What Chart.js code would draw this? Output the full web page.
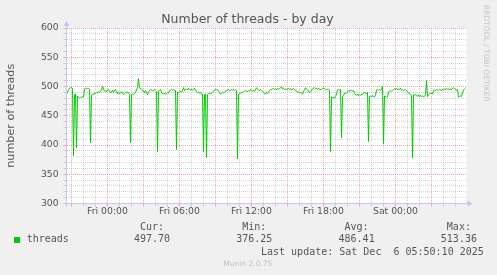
<!DOCTYPE html>
<html><head><meta charset="utf-8">
<script src="https://cdn.jsdelivr.net/npm/chart.js@4/dist/chart.umd.min.js"></script>
<style>
html,body{margin:0;padding:0;background:#f0f0f0;}
#wrap{position:relative;width:497px;height:275px;overflow:hidden;background:#f0f0f0;}
canvas{position:absolute;left:0;top:0;}
.t{position:absolute;white-space:pre;line-height:1;}
.sans{font-family:'DejaVu Sans',sans-serif;}
.mono{font-family:'DejaVu Sans Mono',monospace;font-size:10px;color:#555;}
</style></head><body>
<div id="wrap">
<canvas id="c" width="497" height="275"></canvas>
</div>
<script>
// ---- data (5-minute samples, Thu 20:35 .. Sat 05:50) ----
const threads = [
486,490,494,497,498,498,497,382,486,487,395,484,
482,481,482,481,483,482,496,497,497,496,497,495,
404,485,487,486,489,488,490,489,491,490,492,494,
500,495,492,493,491,494,495,492,489,491,494,490,
493,495,491,488,490,487,489,491,490,486,488,490,
489,491,488,487,404,486,487,486,488,490,494,498,
513.36,498,496,495,494,492,489,493,491,486,490,493,
495,494,492,494,495,493,491,388,492,494,495,490,
488,487,489,486,488,490,489,493,494,495,493,495,
494,493,392,490,489,491,492,490,493,498,493,495,
496,494,497,495,493,496,494,495,497,494,491,490,
490,489,490,487,487,388,486,487,379,486,488,489,
487,489,490,492,494,495,494,495,493,489,487,489,
490,489,490,492,494,493,495,494,493,495,494,495,
493,494,493,376.25,486,488,489,490,489,491,492,493,
492,491,493,492,495,493,492,493,492,494,498,496,
494,493,495,493,492,490,488,487,490,488,490,493,
495,494,496,497,495,496,494,497,495,496,498,500,
496,497,495,496,494,496,497,495,496,494,495,497,
495,494,492,490,491,489,490,488,487,492,494,498,
495,494,493,489,491,494,496,497,498,496,497,495,
497,496,494,495,496,498,496,495,494,496,495,494,
389,482,481,482,480,483,487,494,495,494,495,412,
483,484,489,488,489,490,493,492,493,494,492,493,
489,486,485,487,484,486,485,487,486,488,490,489,
488,490,406,483,484,482,485,483,482,485,494,495,
494,495,494,495,500,402,484,483,481,482,491,492,
493,492,493,494,496,495,497,494,496,495,497,494,
495,493,494,495,493,491,489,487,486,485,378,486,
485,486,485,483,486,482,485,483,484,482,483,486,
510,483,486,487,489,488,487,493,494,493,495,494,
493,495,494,493,495,494,496,495,497,495,496,494,
496,495,497,498,496,495,494,495,482,483,484,483,
489,494,496,497.7
];
const startHour = -41/12;      // first sample, hours relative to Fri 00:00
const stepHours = 1/12;        // 5 minutes
const xTickHours = [0, 6, 12, 18, 24];
const xTickLabels = ['Fri 00:00', 'Fri 06:00', 'Fri 12:00', 'Fri 18:00', 'Sat 00:00'];
const yTickLabels = [300, 350, 400, 450, 500, 550, 600];
const seriesName = 'threads';
const statNames = ['Cur:', 'Min:', 'Avg:', 'Max:'];
const statValues = ['497.70', '376.25', '486.41', '513.36'];
const chartTitle = 'Number of threads - by day';
const yTitle = 'number of threads';
const lastUpdate = 'Last update: Sat Dec  6 05:50:10 2025';
const version = 'Munin 2.0.75';
const sideText = 'RRDTOOL / TOBI OETIKER';

// ---- build ----
const xMin = startHour;
const xMax = startHour + threads.length * stepHours;
const points = threads.map((v, i) => ({x: startHour + i * stepHours, y: v}));

const MAJ = 'rgba(235,135,135,0.7)';
const MIN = 'rgba(165,165,165,0.45)';
const AX = '#c6c6f2';
const TXT = '#555555';

Chart.defaults.font.family = "'DejaVu Sans', sans-serif";

const frame = {
  id: 'frame',
  beforeDraw(chart) {
    const {ctx, chartArea: a} = chart;
    ctx.save();
    ctx.fillStyle = '#ffffff';
    ctx.fillRect(a.left, a.top, a.right - a.left, a.bottom - a.top);
    ctx.restore();
  },
  afterDraw(chart) {
    const {ctx, chartArea: a} = chart;
    const L = Math.round(a.left - 0.5) + 0.5, B = Math.round(a.bottom - 0.5) + 0.5;
    ctx.save();
    ctx.strokeStyle = AX; ctx.fillStyle = AX; ctx.lineWidth = 1;
    ctx.beginPath();
    ctx.moveTo(L, a.bottom + 3); ctx.lineTo(L, a.top - 3);
    ctx.moveTo(a.left - 3, B); ctx.lineTo(a.right + 2, B);
    ctx.stroke();
    ctx.beginPath();
    ctx.moveTo(L - 3, a.top - 2); ctx.lineTo(L + 3, a.top - 2); ctx.lineTo(L, a.top - 7); ctx.closePath(); ctx.fill();
    ctx.beginPath();
    ctx.moveTo(a.right + 1, B - 3); ctx.lineTo(a.right + 1, B + 3); ctx.lineTo(a.right + 6, B); ctx.closePath(); ctx.fill();
    ctx.restore();
  }
};

new Chart(document.getElementById('c'), {
  type: 'line',
  data: {datasets: [{label: seriesName, data: points, borderColor: '#00cc00', borderWidth: 1,
    pointRadius: 0, fill: false, tension: 0}]},
  options: {
    responsive: false, animation: false, devicePixelRatio: 1,
    layout: {padding: {left: 0, top: 28, right: 30.5, bottom: 0}},
    plugins: {legend: {display: false}, title: {display: false}, tooltip: {enabled: false}},
    scales: {
      x: {
        type: 'linear', min: xMin, max: xMax,
        afterFit(s) { s.height = 71.5; },
        afterBuildTicks(s) {
          const t = [];
          for (let h = Math.ceil(xMin); h <= Math.floor(xMax); h++) t.push({value: h});
          s.ticks = t;
        },
        ticks: {autoSkip: false, maxRotation: 0, minRotation: 0, padding: 0, color: TXT, font: {size: 9.3},
          callback(v) { const k = xTickHours.indexOf(v); return k < 0 ? '' : xTickLabels[k]; }},
        grid: {color: c => (c.tick && c.tick.value % 3 === 0) ? MAJ : MIN, lineWidth: 1, tickLength: 3},
        border: {display: true, color: AX, width: 1, dash: [1, 1]}
      },
      y: {
        min: 300, max: 600,
        afterFit(s) { s.width = 66.5; },
        afterBuildTicks(s) {
          const t = [];
          for (let v = 300; v <= 600; v += 10) t.push({value: v});
          s.ticks = t;
        },
        ticks: {autoSkip: false, padding: 5, color: TXT, font: {size: 9.2},
          callback(v) { return yTickLabels.includes(v) ? String(v) : ''; }},
        grid: {color: c => (c.tick && c.tick.value % 50 === 0) ? MAJ : MIN, lineWidth: 1, tickLength: 3},
        border: {display: true, color: AX, width: 1, dash: [1, 1]},
        title: {display: true, text: yTitle, color: TXT, font: {size: 11.2}, padding: {top: 4.5, bottom: 0}}
      }
    }
  },
  plugins: [frame]
});

// ---- text overlays ----
const wrap = document.getElementById('wrap');
function addText(text, cls, style) {
  const d = document.createElement('div');
  d.className = 't ' + cls;
  d.textContent = text;
  Object.assign(d.style, style);
  wrap.appendChild(d);
  return d;
}
addText(chartTitle, 'sans', {left: '-1px', width: '497px', textAlign: 'center', top: '13.4px', fontSize: '12.5px', color: TXT});
addText(sideText, 'sans', {left: '482.8px', top: '5px', fontSize: '7.5px', color: '#c4c4c4', writingMode: 'vertical-rl'});
const sw = document.createElement('div');
Object.assign(sw.style, {position: 'absolute', left: '14px', top: '237.3px', width: '6px', height: '6px', background: '#00cc00'});
wrap.appendChild(sw);
addText(seriesName, 'mono', {left: '26.7px', top: '234.2px'});
const colCenters = [152, 254.3, 356.6, 458.9];
statNames.forEach((n, i) => {
  addText(n, 'mono', {left: (colCenters[i] - 30) + 'px', width: '60px', textAlign: 'center', top: '222.2px'});
  addText(statValues[i], 'mono', {left: (colCenters[i] - 30) + 'px', width: '60px', textAlign: 'center', top: '234.2px'});
});
addText(lastUpdate, 'mono', {left: '261px', top: '246.6px'});
addText(version, 'sans', {left: '223.3px', top: '260.4px', fontSize: '7.5px', color: '#c0c0c0'});
</script>
</body></html>
